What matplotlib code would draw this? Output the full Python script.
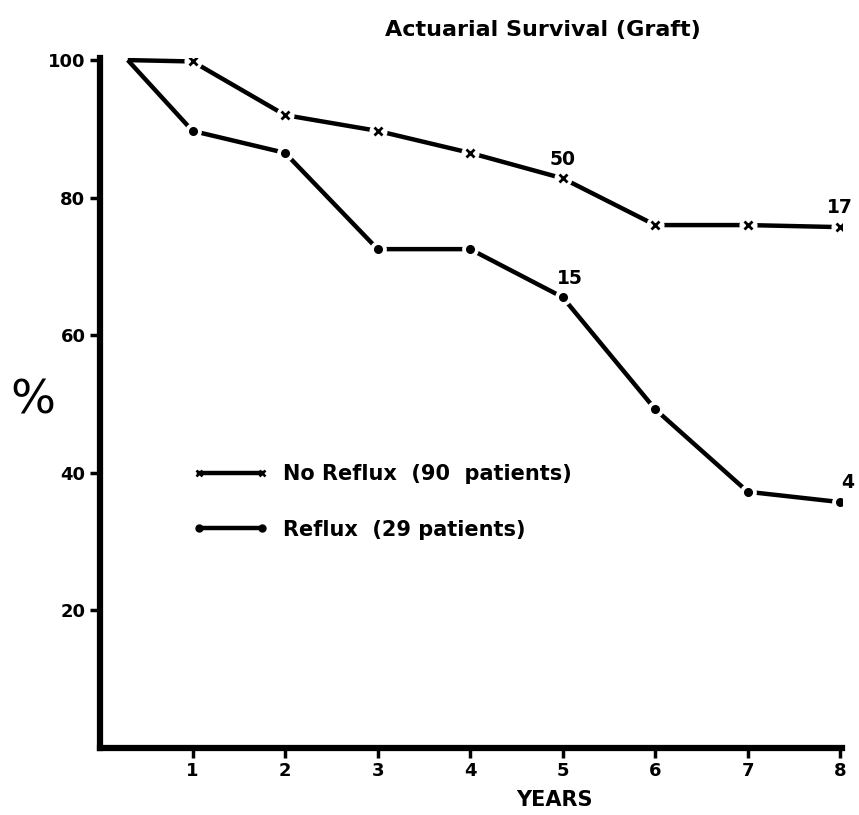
import matplotlib.pyplot as plt

# values
years = [0.3, 1, 2, 3, 4, 5, 6, 7, 8]
no_reflux = [100, 99.8, 92.0, 89.7, 86.5, 82.8, 76.0, 76.0, 75.7]
reflux = [100, 89.7, 86.5, 72.5, 72.5, 65.5, 49.2, 37.2, 35.7]
# patients still at risk, written beside some points
no_reflux_n = {5: '50', 8: '17'}
reflux_n = {5: '15', 8: '4'}

plt.rcParams['font.family'] = ['DejaVu Sans']
plt.rcParams['font.weight'] = 'bold'

fig = plt.figure(figsize=(8.59, 8.15), dpi=100)
ax = fig.add_axes([0.1164, 0.0828, 0.864, 0.846])

lw = 3.2
# white halo markers make the little gaps around each point
ax.plot(years, no_reflux, color='black', lw=lw, solid_capstyle='butt', zorder=2)
ax.plot(years[1:], no_reflux[1:], ls='none', marker='o', ms=12, mfc='white', mec='white', zorder=3)
ax.plot(years[1:], no_reflux[1:], ls='none', marker='x', ms=6, mew=2, color='black', zorder=4)

ax.plot(years, reflux, color='black', lw=lw, solid_capstyle='butt', zorder=2)
ax.plot(years[1:], reflux[1:], ls='none', marker='o', ms=11, mfc='white', mec='white', zorder=3)
ax.plot(years[1:], reflux[1:], ls='none', marker='o', ms=5.5, color='black', zorder=4)

for x, s in no_reflux_n.items():
    ax.annotate(s, (x, no_reflux[years.index(x)]), xytext=(0, 7), textcoords='offset points',
                ha='center', va='bottom', fontsize=13.5, fontweight='bold')
for x, s in reflux_n.items():
    ax.annotate(s, (x, reflux[years.index(x)]), xytext=(5, 7), textcoords='offset points',
                ha='center', va='bottom', fontsize=13.5, fontweight='bold')

# legend handles
h1, = ax.plot([], [], color='black', lw=lw, marker='x', ms=5, mew=1.8)
h2, = ax.plot([], [], color='black', lw=lw, marker='o', ms=5)
leg = ax.legend([h1, h2], ['No Reflux  (90  patients)', 'Reflux  (29 patients)'],
                loc='upper left', bbox_to_anchor=(0.1, 0.438), frameon=False, numpoints=2,
                handlelength=3.6, handletextpad=0.7, labelspacing=1.7,
                prop={'size': 15, 'weight': 'bold'})

ax.set_xlim(0, 8.02)
ax.set_ylim(0, 100.3)
ax.set_xticks([1, 2, 3, 4, 5, 6, 7, 8])
ax.set_yticks([20, 40, 60, 80, 100])
ax.tick_params(width=2.5, length=7, labelsize=13, direction='out')
for t in ax.get_xticklabels() + ax.get_yticklabels():
    t.set_fontweight('bold')

ax.spines['top'].set_visible(False)
ax.spines['right'].set_visible(False)
ax.spines['left'].set_linewidth(4.5)
ax.spines['bottom'].set_linewidth(4.5)

ax.set_xlabel('YEARS', fontsize=15, fontweight='bold')
ax.xaxis.set_label_coords(0.6125, -0.062)
ax.set_ylabel('%', fontsize=34, fontweight='normal', rotation=0)
ax.yaxis.set_label_coords(-0.09, 0.47)
fig.text(0.632, 0.963, 'Actuarial Survival (Graft)', ha='center', va='center',
         fontsize=16, fontweight='bold')

fig.savefig('out.png', dpi=100)
